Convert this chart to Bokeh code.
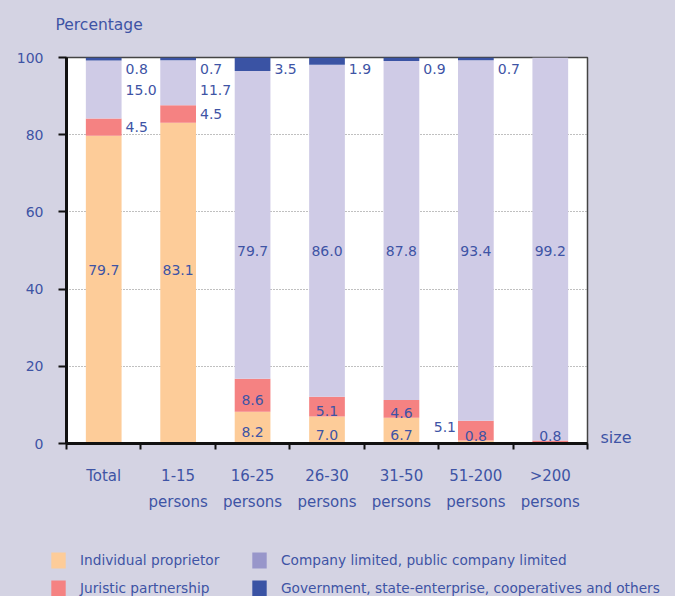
from bokeh.plotting import figure
from bokeh.models import (ColumnDataSource, Range1d, FixedTicker, Legend,
                          LegendItem, LabelSet, LinearAxis, Label)
from bokeh.core.properties import value
from bokeh.embed import file_html
from bokeh.resources import INLINE

# ---------------- data ----------------
categories = ["Total", "1-15", "16-25", "26-30", "31-50", "51-200", ">200"]
x_labels = ["Total", "1-15\npersons", "16-25\npersons", "26-30\npersons",
            "31-50\npersons", "51-200\npersons", ">200\npersons"]
individual = [79.7, 83.1, 8.2, 7.0, 6.7, 0.8, 0.0]
juristic = [4.5, 4.5, 8.6, 5.1, 4.6, 5.1, 0.8]
company = [15.0, 11.7, 79.7, 86.0, 87.8, 93.4, 99.2]
government = [0.8, 0.7, 3.5, 1.9, 0.9, 0.7, 0.0]
series_names = ["Individual proprietor", "Juristic partnership",
                "Company limited, public company limited",
                "Government, state-enterprise, cooperatives and others"]
y_ticks = [0, 20, 40, 60, 80, 100]
y_title = "Percentage"
x_title = "size"

# ---------------- style ----------------
BG = "#D4D3E3"
TXT = "#3E54A5"
FONT = "DejaVu Sans"
colors = ["#FDCC99", "#F58282", "#CFCBE6", "#3A53A4"]
legend_colors = ["#FDCC99", "#F58282", "#9896CA", "#3A53A4"]
BAR_W = 0.48

# label placement (layout only)
sides = [
    ["in", "in", "in", "in", "in", "in", None],
    ["right", "right", "in", "in", "in", "left", "in"],
    ["right", "right", "in", "in", "in", "in", "in"],
    ["right", "right", "right", "right", "right", "right", None],
]

n = len(categories)
xs = [i + 0.5 for i in range(n)]
series = [individual, juristic, company, government]
keys = ["ind", "jur", "com", "gov"]

# ---------------- top strip with the y title ----------------
tp = figure(width=675, height=38, output_backend="svg", toolbar_location=None,
            x_range=Range1d(0, 675), y_range=Range1d(0, 38), min_border=0,
            x_axis_location=None, y_axis_location=None)
tp.grid.visible = False
tp.outline_line_color = None
tp.background_fill_color = BG
tp.border_fill_color = BG
tp.add_layout(Label(x=55, y=14, text=y_title, text_font=FONT,
                    text_font_size="15.5px", text_color=TXT,
                    text_baseline="middle", text_align="left"))

# ---------------- main chart ----------------
src = ColumnDataSource(dict(x=xs, ind=individual, jur=juristic,
                            com=company, gov=government))

p = figure(width=675, height=510, output_backend="svg", toolbar_location=None,
           x_range=Range1d(0, n), y_range=Range1d(0, 100),
           min_border_left=66, min_border_right=88, min_border_top=19,
           min_border_bottom=105)
p.background_fill_color = "white"
p.border_fill_color = BG
p.outline_line_color = "#444444"
p.outline_line_width = 1.5

rs = p.vbar_stack(keys, x="x", width=BAR_W, color=colors, source=src,
                  line_color=None)

# axes
p.yaxis.ticker = FixedTicker(ticks=y_ticks)
p.yaxis.axis_line_width = 3
p.yaxis.axis_line_color = "#111111"
p.yaxis.major_tick_out = 8
p.yaxis.major_tick_in = 0
p.yaxis.major_tick_line_width = 2
p.yaxis.major_tick_line_color = "#111111"
p.yaxis.minor_tick_line_color = None
p.yaxis.major_label_text_font = FONT
p.yaxis.major_label_text_font_size = "14px"
p.yaxis.major_label_text_color = TXT
p.yaxis.major_label_standoff = 15

p.xaxis.ticker = FixedTicker(ticks=xs, minor_ticks=list(range(n + 1)))
p.xaxis.major_label_overrides = {x: lab for x, lab in zip(xs, x_labels)}
p.xaxis.axis_line_width = 3
p.xaxis.axis_line_color = "#111111"
p.xaxis.major_tick_out = 0
p.xaxis.major_tick_in = 0
p.xaxis.major_tick_line_color = None
p.xaxis.minor_tick_out = 6
p.xaxis.minor_tick_in = 0
p.xaxis.minor_tick_line_width = 2
p.xaxis.minor_tick_line_color = "#111111"
p.xaxis.major_label_text_font = FONT
p.xaxis.major_label_text_font_size = "15px"
p.xaxis.major_label_text_color = TXT
p.xaxis.major_label_text_line_height = 1.45
p.xaxis.major_label_standoff = 17

# "size" label on the right, as a tick label
size_axis = LinearAxis(ticker=FixedTicker(ticks=[1.5]),
                       major_label_overrides={1.5: x_title},
                       axis_line_color=None, major_tick_line_color=None,
                       minor_tick_line_color=None, major_label_standoff=7,
                       major_label_text_font=FONT,
                       major_label_text_font_size="16px",
                       major_label_text_color=TXT)
p.add_layout(size_axis, "right")

p.xgrid.grid_line_color = None
p.ygrid.ticker = FixedTicker(ticks=y_ticks[1:-1])
p.ygrid.grid_line_color = "#808080"
p.ygrid.grid_line_dash = "1 2"
p.ygrid.grid_line_width = 1

# value labels
groups = {"in": dict(x=[], y=[], t=[]), "right": dict(x=[], y=[], t=[]),
          "left": dict(x=[], y=[], t=[])}
for s_idx, vals in enumerate(series):
    for i, v in enumerate(vals):
        side = sides[s_idx][i]
        if side is None:
            continue
        bottom = sum(series[k][i] for k in range(s_idx))
        center = bottom + v / 2
        if side == "right":
            x = xs[i] + BAR_W / 2
            if s_idx == 3:
                y = 97.0
            elif s_idx == 2:
                y = min(center, 91.5)
            else:
                y = center
        elif side == "left":
            x = xs[i] - BAR_W / 2
            y = center + 1
        else:
            x = xs[i]
            if v >= 40:
                y = min(max(center, 45), 50)
            else:
                y = max(center - 1.2, 1.9)
        groups[side]["x"].append(x)
        groups[side]["y"].append(y)
        groups[side]["t"].append(f"{v:.1f}")

for side, align, xo in [("in", "center", 0), ("right", "left", 4),
                        ("left", "right", -2)]:
    ls = LabelSet(x="x", y="y", text="t", source=ColumnDataSource(groups[side]),
                  text_align=align, text_baseline="middle", x_offset=xo,
                  text_font=value(FONT), text_font_size="14px",
                  text_color=TXT)
    p.add_layout(ls)

# ---------------- legend strip ----------------
lg = figure(width=675, height=48, output_backend="svg", toolbar_location=None,
            x_range=Range1d(0, 1), y_range=Range1d(0, 1), min_border=0,
            x_axis_location=None, y_axis_location=None)
lg.grid.visible = False
lg.outline_line_color = None
lg.background_fill_color = BG
lg.border_fill_color = BG
swatches = [lg.vbar(x=xs, top=vals, width=0, fill_color=c, line_color=None)
            for vals, c in zip(series, legend_colors)]
items = [LegendItem(label=series_names[k], renderers=[swatches[k]])
         for k in range(4)]
legend = Legend(items=items, location=(49, -2), ncols=2,
                glyph_width=18, glyph_height=20, label_standoff=13,
                spacing=8, padding=0, margin=0, border_line_color=None,
                background_fill_alpha=0, label_text_font=FONT,
                label_text_font_size="13.7px", label_text_color=TXT,
                label_width=162, label_height=20)
lg.add_layout(legend, "center")

html = file_html([tp, p, lg], INLINE)
html = html.replace("</head>",
                    "<style>html,body{margin:0;padding:0;background:%s;"
                    "overflow:hidden;line-height:0;font-size:0}</style></head>"
                    % BG, 1)
open("out.html", "w").write(html)
